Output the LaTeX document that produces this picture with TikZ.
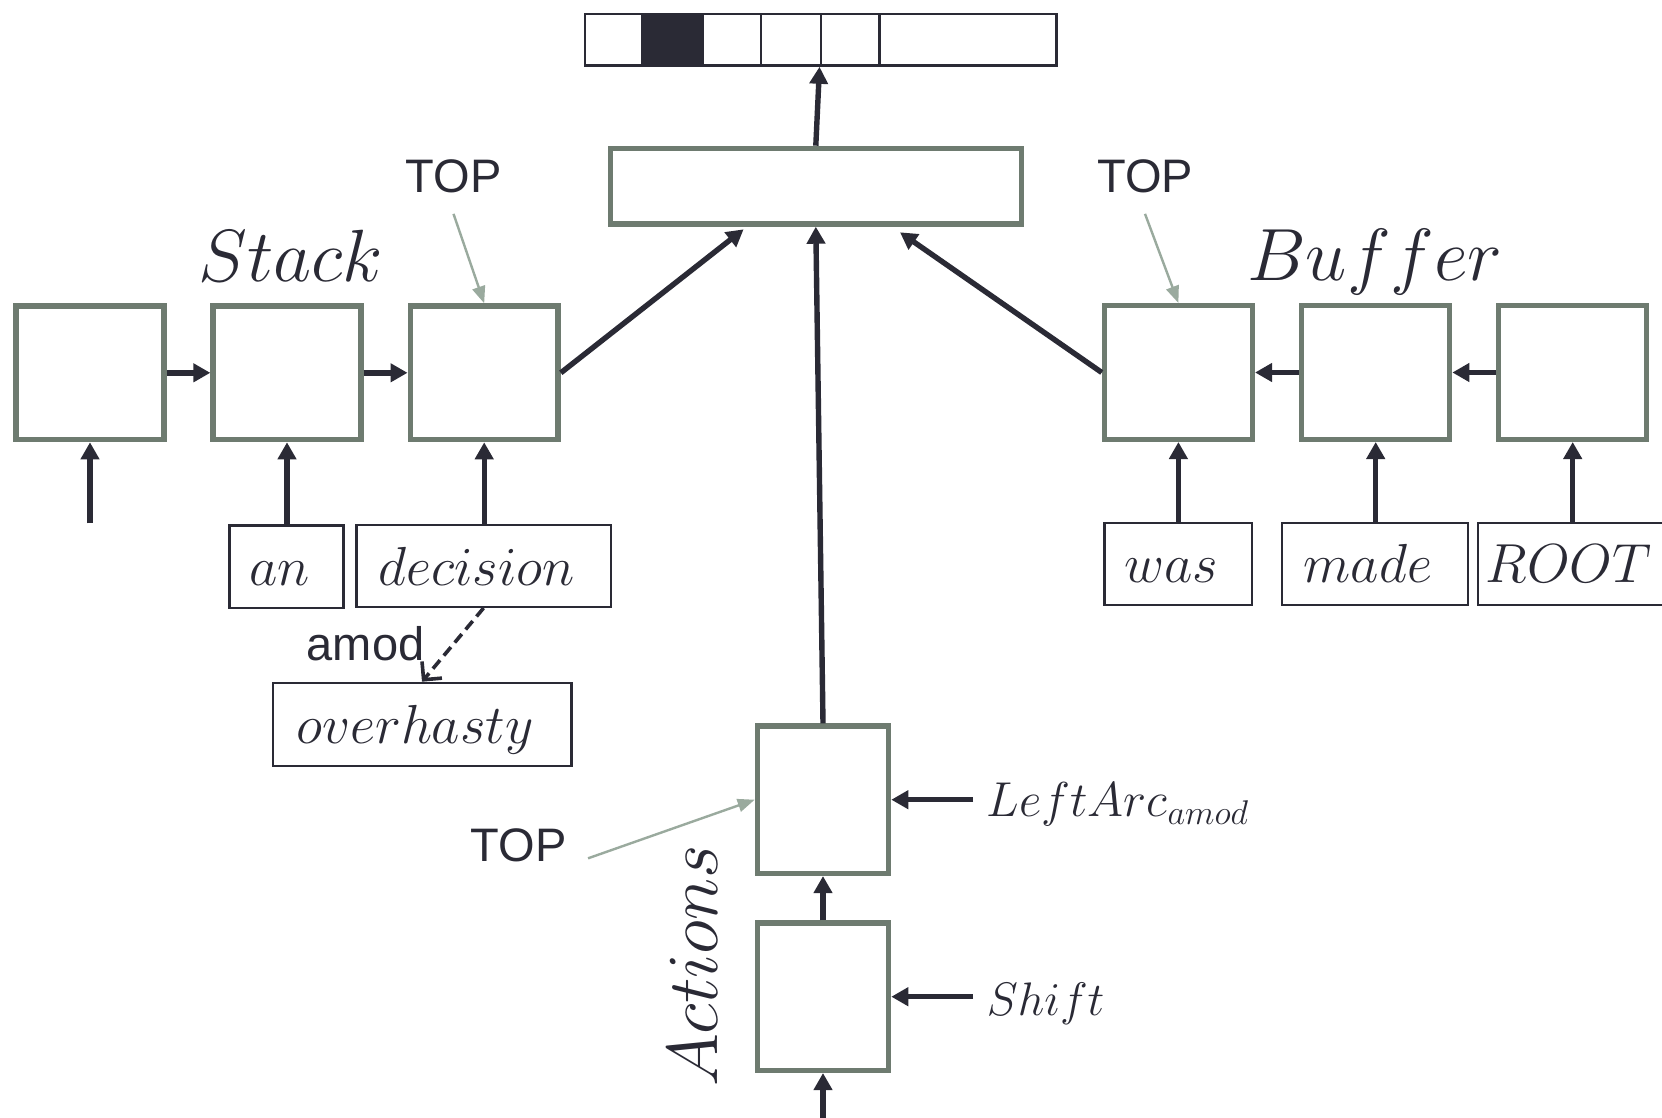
\RequirePackage{fix-cm}
\documentclass[tikz,border=0pt]{standalone}
\usepackage{fontspec}
\setsansfont{Liberation Sans}
\usetikzlibrary{arrows.meta}
\definecolor{boxc}{HTML}{6E7B70}
\definecolor{ink}{HTML}{2A2A35}
\definecolor{topc}{HTML}{9AAA9E}
\begin{document}
\begin{tikzpicture}[x=1pt,y=-1pt,
 cellbox/.style={draw=boxc,line width=5.4pt,fill=white,inner sep=0pt,minimum width=147.9pt,minimum height=133.6pt},
 wordbox/.style={draw=ink,line width=2.2pt,fill=white,inner sep=0pt,text=ink,text height=38pt,text depth=0pt,font=\fontsize{55}{60}\selectfont},
 veccell/.style={draw=ink,line width=2.6pt,inner sep=0pt,minimum height=51.5pt},
 conn/.style={draw=ink,line width=5.4pt,-{Triangle[length=17pt,width=18pt]}},
 toparrow/.style={draw=topc,line width=2.4pt,-{Triangle[length=17pt,width=13pt]}},
 toplbl/.style={font=\sffamily\fontsize{47}{52}\selectfont,text=ink,inner sep=0pt},
 bigname/.style={font=\fontsize{74}{80}\selectfont,text=ink,inner sep=0pt},
 actlbl/.style={font=\fontsize{49}{54}\selectfont,text=ink,inner sep=0pt,anchor=base west}]
\fill[white] (0,0) rectangle (1662,1117);
\useasboundingbox (0,0) rectangle (1662,1117);
\clip (0,0) rectangle (1662,1117);

% output vector
\node[veccell,minimum width=57.6pt] (v1) at (613.8,39.75) {};
\node[veccell,minimum width=59.6pt,fill=ink] (v2) at (672.4,39.75) {};
\node[veccell,minimum width=58.9pt] (v3) at (731.65,39.75) {};
\node[veccell,minimum width=59.7pt] (v4) at (790.95,39.75) {};
\node[veccell,minimum width=58.9pt] (v5) at (850.25,39.75) {};
\node[veccell,minimum width=177pt] (v6) at (968.2,39.75) {};

% combiner
\node[cellbox,minimum width=411.1pt,minimum height=75.6pt] (comb) at (815.8,186.2) {};

% stack
\node[cellbox] (s1) at (90,372.8) {};
\node[cellbox] (s2) at (287,372.8) {};
\node[cellbox] (s3) at (484.2,372.8) {};
% buffer
\node[cellbox] (b1) at (1178.4,372.5) {};
\node[cellbox] (b2) at (1375.7,372.5) {};
\node[cellbox] (b3) at (1572.7,372.5) {};
% actions
\node[cellbox,minimum width=131.2pt,minimum height=147.3pt] (a1) at (823,799.7) {};
\node[cellbox,minimum width=131.2pt,minimum height=147.3pt] (a2) at (823,996.7) {};

% words
\node[wordbox,minimum width=114pt,minimum height=82.5pt] (wan) at (286.5,566.7) {$an$\kern14pt};
\node[wordbox,minimum width=254.4pt,minimum height=81.8pt] (wdec) at (483.6,566) {$decision$\kern14pt};
\node[wordbox,minimum width=298.8pt,minimum height=82.8pt] (wover) at (422,724.2) {$overhasty$\kern14pt};
\node[wordbox,minimum width=147.3pt,minimum height=82.1pt] (wwas) at (1178.2,563.9) {$was$\kern14pt};
\node[wordbox,minimum width=185.6pt,minimum height=82.1pt] (wmade) at (1374.9,563.9) {$made$\kern14pt};
\node[wordbox,minimum width=195pt,minimum height=82.1pt] (wroot) at (1575.5,563.9) {$ROOT$\kern14pt};

% titles
\node[bigname,anchor=base] (stk) at (291,281) {$Stack$};
\node[bigname,anchor=base] (buf) at (1375,280.5) {$Buffer$};
\node[bigname,font=\fontsize{72}{78}\selectfont,rotate=90,anchor=base] (act) at (717.5,966) {$Actions$};

% connectors
\draw[conn] (s1.east) -- (s2.west);
\draw[conn] (s2.east) -- (s3.west);
\draw[conn] (b2.west) -- (b1.east);
\draw[conn] (b3.west) -- (b2.east);
\coordinate (s1in) at (90,523.3);
\draw[conn] (s1in) -- (s1.south);
\draw[conn] (wan.north -| s2.south) -- (s2.south);
\draw[conn] (wdec.north -| s3.south) -- (s3.south);
\draw[conn] (wwas.north -| b1.south) -- (b1.south);
\draw[conn] (wmade.north -| b2.south) -- (b2.south);
\draw[conn] (wroot.north -| b3.south) -- (b3.south);
\draw[conn] (s3.east) -- ([xshift=-72.2pt,yshift=-2.6pt]comb.south);
\draw[conn] (b1.west) -- ([xshift=84.2pt,yshift=-5.6pt]comb.south);
\draw[conn] (a1.north) -- (comb.south);
\draw[conn] (a2.north) -- (a1.south);
\coordinate (ain) at (823,1125);
\draw[conn] (ain) -- (a2.south);
\draw[conn] (comb.north) -- (v5.south west);

% action inputs
\coordinate (laS) at (973,799.7);
\draw[conn] (laS) -- (a1.east);
\node[actlbl] (la) at (986.7,816.7) {$LeftArc_{amod}$};
\coordinate (shS) at (973,996.7);
\draw[conn] (shS) -- (a2.east);
\node[actlbl,font=\fontsize{47}{52}\selectfont] (sh) at (986.7,1015) {$Shift$};

% TOP pointers
\node[toplbl] (topS) at (453.5,176) {TOP};
\draw[toparrow] ([yshift=-21pt]topS.south) -- (s3.north);
\node[toplbl] (topB) at (1145,176) {TOP};
\draw[toparrow] ([yshift=-21pt]topB.south) -- (b1.north);
\node[toplbl] (topA) at (518.5,845) {TOP};
\draw[toparrow] ([xshift=21.5pt,yshift=-13.3pt]topA.east) -- (a1.west);

% dependency arc
\node[toplbl,anchor=base] (amodl) at (365.5,660) {amod};
\draw[ink,line width=3.6pt,dash pattern=on 11pt off 6pt,-{Straight Barb[length=13pt,width=26pt]}] (wdec.south) -- (wover.north);
\end{tikzpicture}
\end{document}
